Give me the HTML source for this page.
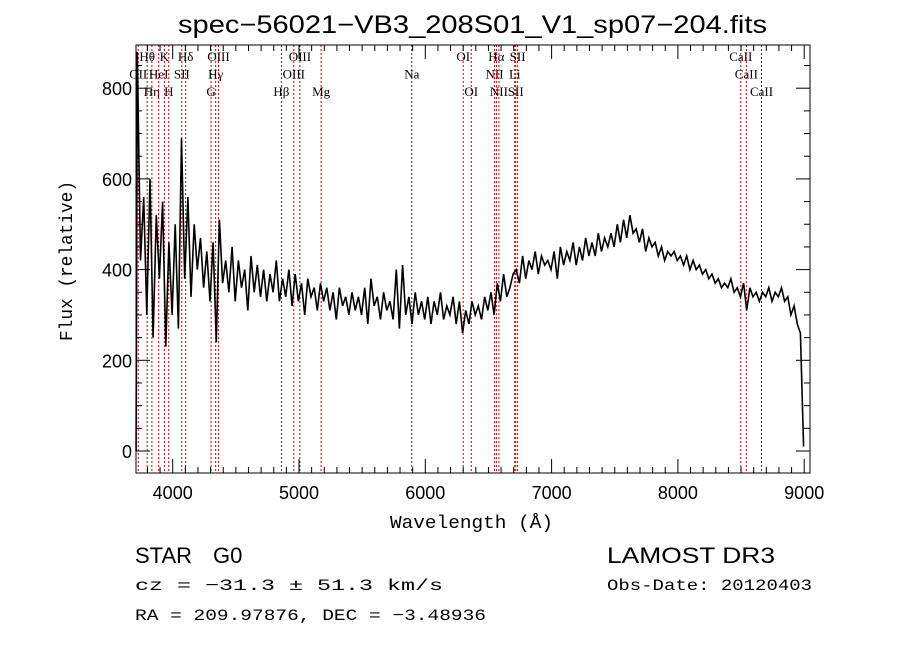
<!DOCTYPE html>
<html><head><meta charset="utf-8"><style>
body{margin:0;background:#fff;width:900px;height:649px;overflow:hidden}
svg{display:block}
.t{font-family:"Liberation Sans",sans-serif;fill:#000}
.m{font-family:"Liberation Mono",monospace;fill:#000}
.s{font-family:"Liberation Serif",serif;font-size:13px;fill:#000}
</style></head><body>
<svg id="c" width="900" height="649">
<text class="t" x="178" y="33" font-size="25" textLength="589" lengthAdjust="spacingAndGlyphs">spec−56021−VB3_208S01_V1_sp07−204.fits</text>
<text class="m" x="390" y="528" font-size="18" textLength="163" lengthAdjust="spacingAndGlyphs">Wavelength (Å)</text>
<text class="m" x="72" y="341" font-size="18" textLength="160" lengthAdjust="spacingAndGlyphs" transform="rotate(-90 72 341)">Flux (relative)</text>
<text class="t" x="135" y="563" font-size="22">STAR</text>
<text class="t" x="213" y="563" font-size="22">G0</text>
<text class="m" x="135" y="590" font-size="16" textLength="308" lengthAdjust="spacingAndGlyphs">cz = −31.3 ± 51.3 km/s</text>
<text class="m" x="135" y="620" font-size="16" textLength="351" lengthAdjust="spacingAndGlyphs">RA = 209.97876, DEC =  −3.48936</text>
<text class="t" x="607" y="563" font-size="22" textLength="168" lengthAdjust="spacingAndGlyphs">LAMOST DR3</text>
<text class="m" x="607" y="590" font-size="16" textLength="205" lengthAdjust="spacingAndGlyphs">Obs-Date: 20120403</text>
</svg>
<script>
const waveStart = 3720, waveStep = 25;
const flux = [880,420,560,300,600,250,520,380,550,230,
460,300,500,270,690,380,560,340,500,400,
470,360,440,330,460,240,510,370,420,350,
450,330,420,360,400,310,430,350,410,340,
400,330,390,350,420,330,380,340,400,320,
390,330,370,300,380,340,360,310,370,330,
360,310,350,290,360,320,340,300,350,310,
340,300,360,280,380,320,340,290,350,310,
330,290,400,270,410,300,340,280,350,300,
330,290,340,280,330,300,350,290,320,300,
340,280,330,260,310,280,330,300,320,290,
340,310,350,300,370,330,390,340,360,390,
400,370,430,380,420,400,440,390,430,410,
420,400,440,380,450,410,440,420,460,410,
450,420,470,430,460,430,480,440,470,450,
480,450,500,460,510,470,520,480,490,460,
490,440,470,450,460,430,450,420,440,430,
440,420,430,410,430,400,420,400,410,390,
400,380,390,370,380,360,370,360,380,350,
360,340,370,310,360,340,350,330,350,340,
360,330,350,340,360,330,340,300,320,280,
260,10];
const xTicks = [4000,5000,6000,7000,8000,9000];
const yTicks = [0,200,400,600,800];
const lineWaves = [3727,3798,3835,3889,3934,3969,4072,4102,4304,4340,4363,4861,4959,5007,5175,5893,6300,6364,6548,6563,6583,6708,6716,6731,8498,8542,8662];
const lineNames = ["OII","Hθ","Hη","HeI","K","H","SII","Hδ","G","Hγ","OIII","Hβ","OIII","OIII","Mg","Na","OI","OI","NII","Hα","NII","Li","SII","SII","CaII","CaII","CaII"];
const lineRows = [2,1,3,2,1,3,2,1,3,2,1,3,2,1,3,2,1,3,2,1,3,2,3,1,1,2,3];
const lineRed = [1,1,1,1,1,1,1,0,1,1,1,0,1,0,1,0,1,1,1,1,1,1,1,1,1,1,0];

const L=136,R=810,T=45,B=473;
const xs=w=>172.7+(w-4000)*0.1263;
const ys=f=>451-(f)*0.4535;
const svg=document.getElementById('c');
const NS='http://www.w3.org/2000/svg';
function mk(tag,attrs,parent){const e=document.createElementNS(NS,tag);for(const k in attrs)e.setAttribute(k,attrs[k]);(parent||svg).appendChild(e);return e;}

lineWaves.forEach((w,i)=>{
  const x=xs(w);
  const ln=mk('line',{x1:x,x2:x,y1:T,y2:B,stroke:lineRed[i]?'#c00000':'#333','stroke-width':1,'stroke-dasharray':'2,2'});
  
  
  const tx=mk('text',{x:x,y:T+16+(lineRows[i]-1)*17.5,'text-anchor':'middle',class:'s'});
  tx.textContent=lineNames[i];
  
  
});

let d='M'+xs(3710)+','+ys(0);
flux.forEach((f,i)=>{d+=' L'+xs(waveStart+waveStep*i).toFixed(1)+','+ys(f).toFixed(1);});
const p=mk('path',{d:d,fill:'none',stroke:'#000','stroke-width':1.6});



const fr=mk('rect',{x:L,y:T,width:R-L,height:B-T,fill:'none',stroke:'#000','stroke-width':1});



for(let w=3800;w<=9000;w+=100){
  const x=xs(w);if(x<L||x>R)continue;
  const maj=w%1000===0, len=maj?14:6;
  mk('line',{x1:x,x2:x,y1:B,y2:B-len,stroke:'#000'});
  mk('line',{x1:x,x2:x,y1:T,y2:T+len,stroke:'#000'});
}
xTicks.forEach(w=>{
  const t=mk('text',{x:xs(w),y:B+26,'text-anchor':'middle',class:'t','font-size':18});
  t.textContent=w;
  
  
});
for(let f=-50;f<=900;f+=50){
  const y=ys(f);if(y<T||y>B)continue;
  const maj=f%200===0, len=maj?14:6;
  mk('line',{x1:L,x2:L+len,y1:y,y2:y,stroke:'#000'});
  mk('line',{x1:R,x2:R-len,y1:y,y2:y,stroke:'#000'});
}
yTicks.forEach(f=>{
  const t=mk('text',{x:L-4,y:ys(f)+7,'text-anchor':'end',class:'t','font-size':18});
  t.textContent=f;
  
  
});
</script>
</body></html>
